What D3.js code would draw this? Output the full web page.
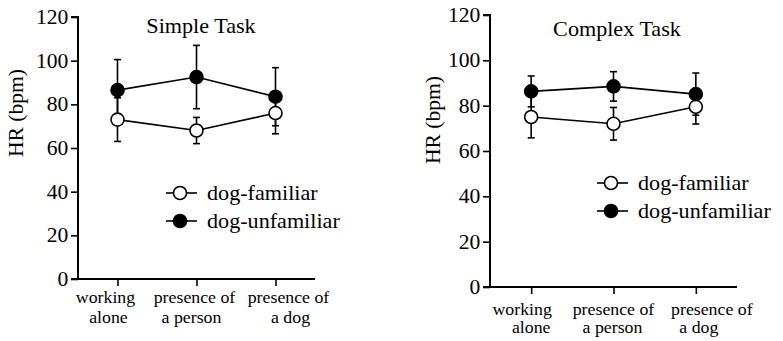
<!DOCTYPE html>
<html>
<head>
<meta charset="utf-8">
<script src="https://cdn.jsdelivr.net/npm/d3@7"></script>
<style>
	body { margin: 0; background: #fff; }
	svg text { font-family: "Liberation Serif", "Times New Roman", serif; fill: #000; }
</style>
</head>
<body>
<div id="chart"></div>
<script>
var serif = '"Liberation Serif", "Times New Roman", serif';
var stretch = 1.08; // the original text is a little wider than Times

// conditions on the x axis (two text lines each)
var conditions = ["working alone", "presence of a person", "presence of a dog"];
var conditionLines = [["working", "alone"], ["presence of", "a person"], ["presence of", "a dog"]];
var yTicks = [0, 20, 40, 60, 80, 100, 120];
var seriesNames = ["dog-familiar", "dog-unfamiliar"];

// simple task
var simpleFamiliar = [73, 68, 76];
var simpleFamiliarErr = [10, 6, 9.5];
var simpleUnfamiliar = [86.5, 92.5, 83.5];
var simpleUnfamiliarErr = [14, 14.5, 13.3];

// complex task
var complexFamiliar = [75, 72, 79.5];
var complexFamiliarErr = [9.2, 7.2, 7.6];
var complexUnfamiliar = [86.3, 88.5, 85.1];
var complexUnfamiliarErr = [6.8, 6.5, 9.3];

var panels = [
	{
		title: "Simple Task",
		left: 78, right: 315, top: 17, bottom: 279,
		titleX: 201, titleY: 33,
		yLabelX: 23, yLabelY: 113,
		legendX: 166, legendY: 193,
		labelY: 303, labelGap: 20,
		labelShift: [[-12, -9], [-2, -5], [13, 15]],
		familiar: simpleFamiliar, familiarErr: simpleFamiliarErr,
		unfamiliar: simpleUnfamiliar, unfamiliarErr: simpleUnfamiliarErr
	},
	{
		title: "Complex Task",
		left: 490, right: 737, top: 15, bottom: 287,
		titleX: 617, titleY: 36,
		yLabelX: 440, yLabelY: 120,
		legendX: 597, legendY: 183,
		labelY: 315, labelGap: 18,
		labelShift: [[-9, 0], [0, -1], [16, 3]],
		familiar: complexFamiliar, familiarErr: complexFamiliarErr,
		unfamiliar: complexUnfamiliar, unfamiliarErr: complexUnfamiliarErr
	}
];

var svg = d3.select('#chart')
	.append('svg')
	.attr('width', 783)
	.attr('height', 341)
	.attr('font-family', serif);

panels.forEach(drawPanel);

// text placed at (x, y) and widened a bit
function addText(parent, x, y, str, size, anchor, rotate) {
	return parent.append('text')
		.attr('transform', 'translate(' + x + ',' + y + ')' + (rotate ? ' rotate(' + rotate + ')' : '') + ' scale(' + stretch + ',1)')
		.attr('text-anchor', anchor || 'start')
		.attr('font-size', size)
		.text(str);
}

function drawPanel(p) {
	let g = svg.append('g');

	let x = d3.scalePoint()
		.domain(conditions)
		.range([p.left, p.right])
		.padding(0.5);

	let y = d3.scaleLinear()
		.domain([0, 120])
		.range([p.bottom, p.top]);

	// y axis
	let yAxis = g.append('g')
		.attr('transform', 'translate(' + p.left + ',0)')
		.call(d3.axisLeft(y).tickValues(yTicks).tickSize(7).tickPadding(2))
		.attr('font-family', serif)
		.attr('font-size', 20);
	yAxis.select('.domain').attr('stroke-width', 2).attr('d', 'M-7,' + y(120) + 'H0V' + y(0));
	yAxis.selectAll('.tick line').attr('stroke-width', 1.6);
	yAxis.selectAll('.tick text').attr('transform', 'scale(' + stretch + ',1)');

	// x axis
	let xAxis = g.append('g')
		.attr('transform', 'translate(0,' + p.bottom + ')')
		.call(d3.axisBottom(x).tickSize(7).tickFormat(''));
	xAxis.select('.domain').attr('stroke-width', 2).attr('d', 'M' + (p.left - 7) + ',0H' + p.right);
	xAxis.selectAll('.tick line').attr('stroke-width', 1.6);

	// two-line x labels
	conditions.forEach(function (c, i) {
		conditionLines[i].forEach(function (line, j) {
			addText(g, x(c) + p.labelShift[i][j], p.labelY + j * p.labelGap, line, 16.5, 'middle');
		});
	});

	// y label
	addText(g, p.yLabelX, p.yLabelY, 'HR (bpm)', 20, 'middle', -90);

	// title
	addText(g, p.titleX, p.titleY, p.title, 20.5, 'middle');

	let series = [
		{ values: p.familiar, err: p.familiarErr, fill: '#fff' },
		{ values: p.unfamiliar, err: p.unfamiliarErr, fill: '#000' }
	];

	let line = d3.line()
		.x(function (d, i) { return x(conditions[i]); })
		.y(function (d) { return y(d); });

	// error bars
	series.forEach(function (s) {
		s.values.forEach(function (v, i) {
			let cx = x(conditions[i]);
			let e = g.append('g').attr('stroke', '#000').attr('stroke-width', 1.6);
			e.append('line')
				.attr('x1', cx).attr('x2', cx)
				.attr('y1', y(v + s.err[i])).attr('y2', y(v - s.err[i]));
			[v + s.err[i], v - s.err[i]].forEach(function (ev) {
				e.append('line')
					.attr('x1', cx - 3.5).attr('x2', cx + 3.5)
					.attr('y1', y(ev)).attr('y2', y(ev));
			});
		});
	});

	// lines and markers
	series.forEach(function (s) {
		g.append('path')
			.datum(s.values)
			.attr('d', line)
			.attr('fill', 'none')
			.attr('stroke', '#000')
			.attr('stroke-width', 1.6);
	});
	series.forEach(function (s) {
		g.selectAll(null)
			.data(s.values)
			.enter()
			.append('circle')
			.attr('cx', function (d, i) { return x(conditions[i]); })
			.attr('cy', function (d) { return y(d); })
			.attr('r', 6.5)
			.attr('fill', s.fill)
			.attr('stroke', '#000')
			.attr('stroke-width', 1.6);
	});

	// legend
	series.forEach(function (s, i) {
		let ly = p.legendY + i * 28;
		g.append('line')
			.attr('x1', p.legendX).attr('x2', p.legendX + 31)
			.attr('y1', ly).attr('y2', ly)
			.attr('stroke', '#000').attr('stroke-width', 1.6);
		g.append('circle')
			.attr('cx', p.legendX + 14).attr('cy', ly)
			.attr('r', 6.5)
			.attr('fill', s.fill)
			.attr('stroke', '#000')
			.attr('stroke-width', 1.6);
		addText(g, p.legendX + 41, ly + 7, seriesNames[i], 20.5);
	});
}
</script>
</body>
</html>
